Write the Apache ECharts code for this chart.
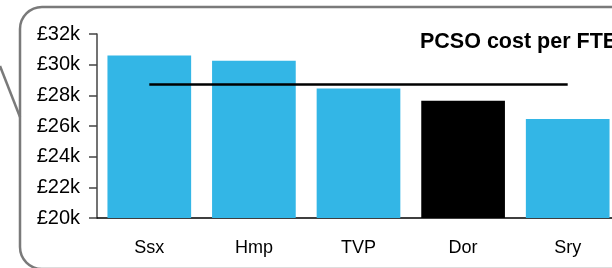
<!DOCTYPE html>
<html>
<head>
<meta charset="utf-8">
<script src="https://cdn.jsdelivr.net/npm/echarts@6/dist/echarts.min.js"></script>
<style>
    html, body { margin: 0; padding: 0; background: #fff; }
    #chart { width: 612px; height: 268px; }
</style>
</head>
<body>
<div id="chart"></div>
<script>
// forces and PCSO cost per FTE (£)
var forces = ['Ssx', 'Hmp', 'TVP', 'Dor', 'Sry'];
var costs = [30600, 30250, 28450, 27650, 26450];
var average = [28700, 28700, 28700, 28700, 28700];
var barColors = ['#33b6e6', '#33b6e6', '#33b6e6', '#000000', '#33b6e6'];

var myChart = echarts.init(document.getElementById('chart'));

var barData = [];
for (var i = 0; i < costs.length; i++) {
    barData.push({ value: costs[i], itemStyle: { color: barColors[i] } });
}

var option = {
    animation: false,
    title: {
        text: 'PCSO cost per FTE',
        left: 420,
        top: 31,
        padding: 0,
        textStyle: {
            fontFamily: 'Liberation Sans',
            fontSize: 21.5,
            fontWeight: 'bold',
            color: '#000'
        }
    },
    // slide frame
    graphic: [
        {
            type: 'rect',
            shape: { x: 20, y: 7, width: 620, height: 262, r: 22 },
            style: { fill: 'none', stroke: '#7a7a7a', lineWidth: 2.5 },
            z: -1
        },
        {
            type: 'line',
            shape: { x1: 0, y1: 66, x2: 20, y2: 117 },
            style: { stroke: '#7a7a7a', lineWidth: 2.5 },
            z: -1
        }
    ],
    grid: {
        left: 97,
        top: 34,
        width: 523,
        height: 184,
        containLabel: false,
        outerBoundsMode: 'none'
    },
    xAxis: {
        type: 'category',
        data: forces,
        axisLine: { lineStyle: { color: '#000', width: 1.5 } },
        axisTick: { show: false },
        axisLabel: {
            margin: 21,
            fontFamily: 'Liberation Sans',
            fontSize: 18,
            color: '#000'
        }
    },
    yAxis: {
        type: 'value',
        min: 20000,
        max: 32000,
        interval: 2000,
        splitLine: { show: false },
        axisLine: { show: true, lineStyle: { color: '#444', width: 1.5 } },
        axisTick: { show: true, length: 8, lineStyle: { color: '#444', width: 1.5 } },
        axisLabel: {
            margin: 17,
            fontFamily: 'Liberation Sans',
            fontSize: 20,
            color: '#000',
            formatter: function (v) {
                return '£' + (v / 1000) + 'k';
            }
        }
    },
    series: [
        {
            name: 'cost',
            type: 'bar',
            data: barData,
            barCategoryGap: '20%'
        },
        {
            name: 'average',
            type: 'line',
            data: average,
            showSymbol: false,
            lineStyle: { color: '#000', width: 2.5 },
            z: 3
        }
    ]
};

myChart.setOption(option);
</script>
</body>
</html>
